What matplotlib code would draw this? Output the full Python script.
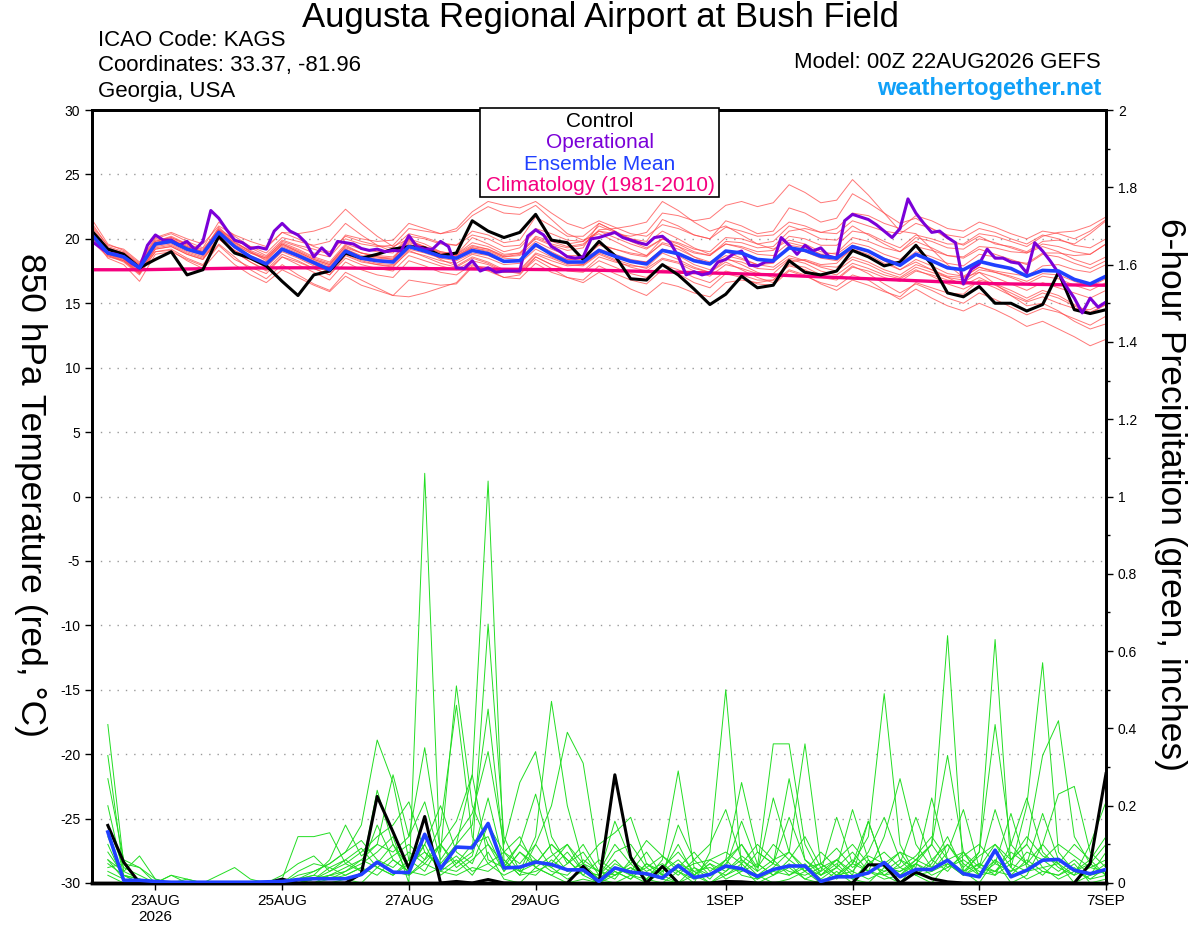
import matplotlib
matplotlib.use("Agg")
import matplotlib.pyplot as plt
from matplotlib.patches import Rectangle
from matplotlib.ticker import FuncFormatter, MultipleLocator
import numpy as np

plt.rcParams['font.family'] = ['Liberation Sans', 'DejaVu Sans']
plt.rcParams['axes.unicode_minus'] = False

# time axis: hours after 00Z 22AUG2026
hours = np.arange(65) * 6          # 6-hourly GEFS
hours_op = np.arange(129) * 3      # 3-hourly operational run
hours_pcp = np.arange(1, 65) * 6   # 6-hour precip totals

tick_hours = [24, 72, 120, 168, 240, 288, 336, 384]
tick_labels = ["23AUG\n2026", "25AUG", "27AUG", "29AUG", "1SEP", "3SEP", "5SEP", "7SEP"]

# ---- 850 hPa temperature (C) ----
control_t = [20.6, 19.2, 18.8, 17.75, 18.4, 19.0, 17.2, 17.6, 20.2, 18.9,
             18.5, 17.9, 16.7, 15.6, 17.2, 17.5, 18.9, 18.5, 18.8, 19.2,
             19.4, 19.3, 18.7, 18.9, 21.4, 20.6, 20.1, 20.5, 21.9, 19.9,
             19.7, 18.4, 19.8, 18.7, 16.9, 16.8, 18.0, 17.2, 16.1, 14.9,
             15.7, 17.1, 16.2, 16.4, 18.3, 17.4, 17.2, 17.5, 19.1, 18.6,
             17.9, 18.2, 19.5, 18.0, 15.8, 15.5, 16.3, 15.0, 15.0, 14.4,
             14.9, 17.4, 14.5, 14.2, 14.5]

operational_t = [19.8, 19.35, 18.9, 18.8, 18.6, 18.1, 17.75, 19.5, 20.3, 19.9,
                 19.9, 19.5, 19.8, 19.15, 19.8, 22.2, 21.6, 20.7, 19.9, 19.7,
                 19.25, 19.35, 19.2, 20.6, 21.2, 20.6, 20.3, 19.7, 18.6, 19.3,
                 18.7, 19.8, 19.7, 19.6, 19.25, 19.1, 19.2, 19.0, 19.1, 19.05,
                 20.25, 19.4, 19.2, 19.2, 19.8, 19.4, 17.75, 17.7, 18.3, 17.5,
                 17.75, 17.4, 17.5, 17.5, 17.5, 20.2, 20.7, 20.3, 19.4, 19.05,
                 18.6, 18.5, 18.6, 20.0, 20.1, 20.3, 20.5, 20.1, 19.9, 19.7,
                 19.55, 20.1, 20.2, 19.7, 18.65, 17.2, 17.45, 17.2, 17.35, 18.2,
                 18.4, 18.85, 19.05, 17.95, 17.9, 18.2, 18.25, 20.1, 19.5, 18.8,
                 19.5, 19.05, 19.3, 18.65, 18.5, 21.4, 21.9, 21.7, 21.5, 21.1,
                 20.6, 20.1, 20.8, 23.1, 22.0, 21.2, 20.5, 20.6, 20.1, 19.7,
                 16.5, 17.65, 18.05, 19.2, 18.5, 18.5, 18.2, 18.1, 17.35, 19.7,
                 19.05, 18.25, 17.35, 16.3, 15.4, 14.25, 15.4, 14.7, 15.1]

mean_t = [20.3, 18.9, 18.6, 17.75, 19.6, 19.8, 19.2, 18.85, 20.5, 19.4,
          18.6, 18.05, 19.2, 18.7, 18.15, 17.6, 19.05, 18.5, 18.3, 18.2,
          19.4, 19.05, 18.65, 18.5, 19.1, 18.85, 18.25, 18.3, 19.55, 18.8,
          18.2, 18.2, 19.1, 18.65, 18.25, 18.05, 19.1, 18.85, 18.3, 18.05,
          19.05, 18.9, 18.4, 18.3, 19.3, 19.1, 18.65, 18.5, 19.4, 19.05,
          18.4, 17.95, 18.8, 18.3, 17.75, 17.6, 18.25, 17.95, 17.7, 17.1,
          17.55, 17.5, 16.85, 16.5, 17.1]

climo_t = [17.6, 17.6, 17.6, 17.6, 17.62, 17.64, 17.66, 17.68, 17.7, 17.72,
           17.73, 17.74, 17.75, 17.75, 17.75, 17.74, 17.73, 17.72, 17.71, 17.7,
           17.7, 17.69, 17.68, 17.67, 17.66, 17.65, 17.64, 17.63, 17.62, 17.61,
           17.6, 17.58, 17.56, 17.53, 17.5, 17.47, 17.44, 17.41, 17.38, 17.35,
           17.32, 17.28, 17.24, 17.2, 17.15, 17.1, 17.05, 17.0, 16.95, 16.9,
           16.85, 16.8, 16.75, 16.7, 16.65, 16.6, 16.55, 16.52, 16.5, 16.48,
           16.46, 16.44, 16.42, 16.41, 16.4]

members_t = [
    [21.2, 19.4, 19.0, 18.0, 19.9, 20.1, 19.5, 19.0, 20.9, 19.8, 19.0, 18.3, 19.6, 19.0, 18.4, 18.0, 19.5, 18.9, 18.6, 18.4,
     20.0, 19.6, 19.0, 18.8, 20.1, 19.6, 19.0, 19.3, 20.6, 20.0, 19.6, 19.8, 21.0, 20.5, 20.0, 19.8, 21.5, 21.0, 20.3, 20.0,
     21.4, 21.0, 20.4, 20.6, 22.4, 22.0, 21.3, 21.6, 23.5, 22.8, 22.0, 21.2, 21.6, 20.8, 20.0, 19.5, 20.2, 19.6, 19.4, 19.0,
     19.8, 19.9, 19.6, 20.4, 21.4],
    [20.6, 19.0, 18.4, 17.4, 19.2, 19.4, 18.8, 18.4, 20.0, 19.0, 18.2, 17.5, 18.6, 18.0, 17.4, 16.8, 18.2, 17.6, 17.2, 17.0,
     18.3, 17.9, 17.4, 17.2, 18.0, 17.6, 17.0, 16.9, 18.1, 17.4, 17.0, 16.8, 17.9, 17.3, 16.8, 16.5, 17.6, 17.3, 16.6, 16.2,
     17.3, 17.0, 16.5, 16.4, 17.5, 17.1, 16.6, 16.3, 17.2, 16.8, 16.0, 15.3, 16.1, 15.4, 14.8, 14.4, 15.0, 14.5, 13.9, 13.2,
     13.6, 13.0, 12.4, 11.7, 12.2],
    [20.0, 19.2, 18.9, 17.9, 19.8, 20.1, 19.6, 19.1, 20.8, 19.9, 19.3, 18.7, 19.9, 19.5, 19.2, 18.8, 20.3, 20.0, 19.8, 19.9,
     21.2, 20.8, 20.4, 20.6, 21.8, 22.5, 22.0, 21.9, 22.6, 21.5, 20.4, 19.9, 20.4, 19.8, 19.2, 18.7, 19.6, 19.2, 18.6, 18.2,
     19.0, 18.5, 18.0, 17.8, 18.7, 18.3, 17.8, 17.5, 18.4, 18.0, 17.4, 17.0, 17.8, 17.4, 17.0, 16.8, 17.6, 17.4, 17.1, 16.7,
     17.3, 17.2, 16.7, 16.3, 16.9],
    [20.8, 18.7, 18.2, 17.2, 19.0, 19.2, 18.5, 18.0, 19.6, 18.6, 17.6, 16.9, 18.0, 17.2, 16.5, 16.0, 17.4, 16.8, 16.2, 15.6,
     16.8, 16.6, 16.4, 16.5, 17.8, 17.5, 17.0, 17.2, 18.6, 18.0, 17.6, 17.5, 18.6, 18.2, 17.9, 17.8, 18.9, 18.4, 17.8, 17.4,
     18.2, 17.6, 17.0, 16.6, 17.6, 17.2, 16.5, 16.0, 16.8, 16.4, 15.9, 15.5, 16.6, 16.2, 15.8, 15.7, 16.8, 16.5, 16.0, 15.4,
     16.0, 15.6, 14.9, 14.3, 14.9],
    [21.5, 19.6, 19.1, 18.1, 20.0, 20.4, 19.8, 19.3, 21.3, 20.2, 19.4, 18.9, 20.1, 19.8, 19.5, 19.8, 21.2, 20.3, 19.5, 19.0,
     19.9, 19.4, 18.9, 18.7, 19.3, 19.0, 18.5, 18.4, 19.6, 19.0, 18.4, 18.5, 19.5, 19.2, 18.9, 18.7, 20.0, 19.7, 19.2, 19.0,
     20.1, 20.0, 19.6, 19.8, 21.0, 20.6, 20.0, 19.9, 21.0, 20.3, 19.6, 19.0, 19.8, 19.3, 18.7, 18.5, 19.2, 18.8, 18.4, 18.0,
     18.8, 18.6, 18.1, 17.7, 18.3],
    [19.9, 18.8, 18.5, 17.6, 19.5, 19.7, 19.1, 18.7, 20.3, 19.3, 18.6, 18.1, 19.4, 18.9, 18.3, 17.9, 19.2, 18.6, 18.4, 18.3,
     19.6, 19.2, 18.8, 18.7, 19.4, 19.2, 18.7, 18.9, 20.2, 19.8, 19.4, 19.6, 20.6, 20.4, 20.2, 20.5, 22.0, 21.8, 21.4, 21.6,
     22.6, 22.9, 22.5, 22.8, 24.2, 23.6, 22.8, 23.0, 24.6, 23.4, 22.0, 20.6, 20.4, 19.2, 18.0, 17.0, 17.4, 16.5, 15.6, 14.8,
     15.0, 14.4, 13.6, 13.0, 13.4],
    [20.2, 18.5, 18.0, 16.7, 18.8, 19.0, 18.4, 17.9, 19.5, 18.4, 17.8, 17.3, 18.6, 18.2, 17.7, 17.2, 18.7, 18.2, 18.0, 17.9,
     19.0, 18.7, 18.3, 18.1, 18.8, 18.5, 18.0, 18.1, 19.2, 18.6, 18.1, 18.0, 18.9, 18.4, 18.0, 17.7, 18.5, 18.2, 17.7, 17.4,
     18.4, 18.2, 17.7, 17.6, 18.5, 18.3, 17.9, 17.8, 18.6, 18.2, 17.6, 17.2, 18.0, 17.6, 17.1, 17.0, 17.8, 17.5, 17.3, 17.1,
     17.9, 18.0, 17.6, 17.4, 18.0],
    [20.5, 19.1, 18.8, 17.9, 19.7, 20.0, 19.4, 19.0, 20.6, 19.7, 19.1, 18.6, 19.7, 19.2, 18.6, 18.2, 19.6, 19.2, 19.0, 18.9,
     20.2, 20.0, 19.6, 19.5, 20.6, 20.3, 19.7, 19.9, 21.7, 21.0, 20.2, 20.2, 21.2, 20.6, 20.0, 19.6, 20.6, 20.0, 19.3, 18.8,
     19.6, 19.4, 19.0, 19.1, 20.2, 20.0, 19.5, 19.5, 20.6, 20.4, 19.8, 19.3, 20.3, 20.0, 19.6, 19.6, 20.4, 20.2, 19.8, 19.4,
     20.2, 20.5, 20.6, 21.0, 21.7],
    [20.4, 18.8, 18.4, 17.5, 19.4, 19.6, 19.0, 18.6, 20.1, 19.1, 18.4, 17.8, 19.0, 18.5, 17.9, 17.4, 18.8, 18.3, 18.0, 17.8,
     19.1, 18.6, 18.1, 17.8, 18.5, 18.1, 17.5, 17.3, 18.4, 17.7, 17.0, 16.6, 17.4, 16.8, 16.1, 15.6, 16.6, 16.3, 15.8, 15.5,
     16.6, 16.8, 16.6, 16.8, 18.2, 18.4, 18.0, 18.1, 19.3, 19.0, 18.3, 17.6, 18.2, 17.6, 17.0, 16.4, 17.0, 16.4, 15.8, 15.2,
     15.8, 15.4, 14.8, 14.2, 14.9],
    [20.1, 18.9, 18.6, 17.7, 19.6, 19.9, 19.3, 18.9, 20.4, 19.4, 18.7, 18.2, 19.3, 18.8, 18.2, 17.8, 19.2, 18.7, 18.5, 18.4,
     19.5, 19.2, 18.8, 18.6, 19.3, 19.1, 18.6, 18.8, 20.1, 19.6, 19.3, 19.5, 20.7, 20.8, 21.0, 21.3, 22.9, 22.2, 21.3, 20.6,
     21.0, 20.3, 19.6, 19.2, 19.9, 19.6, 19.0, 18.8, 19.7, 19.4, 18.8, 18.4, 19.4, 19.1, 18.7, 18.6, 19.4, 19.3, 19.0, 18.9,
     19.6, 19.4, 19.0, 18.8, 19.6],
    [20.7, 19.2, 18.9, 18.0, 19.8, 20.2, 19.6, 19.2, 20.7, 19.6, 18.9, 18.4, 19.5, 19.0, 18.4, 18.0, 19.3, 18.9, 18.6, 18.5,
     19.7, 19.4, 19.0, 18.8, 19.5, 19.2, 18.6, 18.7, 19.8, 19.2, 18.7, 18.7, 19.6, 19.2, 18.8, 18.6, 19.7, 19.4, 18.9, 18.7,
     19.8, 19.7, 19.3, 19.4, 20.6, 20.8, 20.5, 20.8, 22.0, 21.8, 21.2, 20.8, 21.8, 21.4, 20.8, 20.6, 21.3, 20.9, 20.4, 20.0,
     20.6, 20.4, 20.0, 20.6, 21.5],
    [20.3, 18.7, 18.3, 17.4, 19.3, 19.5, 18.9, 18.5, 20.0, 19.0, 18.2, 17.6, 18.8, 18.3, 17.7, 17.2, 18.5, 18.0, 17.7, 17.5,
     18.7, 18.3, 17.9, 17.6, 18.3, 18.0, 17.4, 17.4, 18.6, 18.0, 17.5, 17.4, 18.3, 17.8, 17.3, 17.0, 18.0, 17.6, 17.0, 16.6,
     17.5, 17.2, 16.8, 16.8, 18.0, 17.8, 17.2, 16.9, 17.9, 17.3, 16.5, 15.8, 16.5, 16.0, 15.4, 15.0, 15.8, 15.3, 14.7, 14.1,
     14.6, 14.3, 13.8, 13.3, 14.0],
    [20.9, 19.3, 18.9, 17.8, 19.7, 20.0, 19.3, 18.9, 20.7, 19.7, 19.0, 18.5, 19.6, 19.1, 18.5, 18.1, 19.4, 18.9, 18.7, 18.6,
     19.8, 19.4, 18.9, 18.8, 19.7, 19.4, 18.8, 18.9, 20.0, 19.5, 19.1, 19.3, 21.2, 20.6, 19.8, 19.3, 20.0, 19.4, 18.6, 18.0,
     18.7, 18.4, 18.0, 18.1, 19.5, 19.3, 18.8, 18.9, 20.1, 19.8, 19.3, 19.0, 20.1, 19.8, 19.3, 19.2, 20.0, 19.7, 19.3, 18.9,
     19.4, 19.0, 18.4, 18.0, 18.6],
    [19.8, 18.6, 18.3, 17.3, 19.2, 19.4, 18.8, 18.4, 20.0, 19.1, 18.5, 17.9, 19.1, 18.6, 18.0, 17.5, 18.9, 18.4, 18.1, 18.0,
     19.2, 18.9, 18.5, 18.3, 18.9, 18.7, 18.2, 18.3, 19.4, 18.9, 18.4, 18.4, 19.2, 18.8, 18.4, 18.2, 19.2, 18.9, 18.4, 18.1,
     19.0, 18.8, 18.4, 18.3, 19.3, 19.0, 18.5, 18.3, 19.2, 18.8, 18.1, 17.6, 18.4, 17.9, 17.3, 17.1, 17.8, 17.4, 17.0, 16.5,
     17.1, 16.9, 16.4, 16.0, 16.6],
    [20.4, 19.0, 18.7, 17.6, 19.5, 19.9, 19.4, 19.0, 20.7, 19.9, 19.4, 19.3, 20.5, 20.4, 20.6, 21.0, 22.3, 21.2, 20.2, 19.4,
     20.0, 19.2, 18.4, 17.9, 18.6, 18.2, 17.6, 17.5, 18.8, 18.3, 17.9, 18.0, 19.0, 18.6, 18.3, 18.2, 19.2, 18.7, 18.0, 17.6,
     18.5, 18.0, 17.4, 17.0, 17.9, 17.6, 17.0, 16.8, 17.8, 17.5, 17.0, 16.7, 17.5, 17.2, 16.8, 16.6, 17.4, 17.0, 16.5, 16.0,
     16.6, 16.2, 15.8, 15.4, 16.0],
    [20.6, 19.1, 18.7, 17.8, 19.6, 19.9, 19.3, 18.8, 20.3, 19.5, 18.9, 18.5, 19.8, 19.4, 18.9, 18.6, 20.0, 19.6, 19.4, 19.5,
     20.8, 20.6, 20.4, 20.8, 22.1, 22.9, 22.6, 22.4, 22.9, 22.0, 21.2, 20.8, 21.4, 20.9, 20.4, 20.2, 21.1, 20.8, 20.3, 20.0,
     20.9, 20.6, 20.2, 20.3, 21.3, 21.0, 20.5, 20.4, 21.4, 21.0, 20.6, 20.4, 21.2, 20.8, 20.3, 20.1, 20.8, 20.5, 20.0, 19.6,
     20.3, 20.0, 19.5, 19.3, 20.0],
    [20.2, 18.8, 18.3, 17.3, 19.0, 19.1, 18.3, 17.7, 19.1, 18.0, 17.2, 16.6, 17.6, 17.0, 16.4, 15.9, 17.1, 16.4, 16.0, 15.6,
     15.5, 15.8, 16.2, 16.6, 17.9, 17.8, 17.4, 17.6, 18.9, 18.5, 18.0, 17.9, 18.8, 18.3, 17.8, 17.5, 18.4, 18.1, 17.5, 17.1,
     18.0, 17.7, 17.3, 17.3, 18.4, 18.1, 17.5, 17.2, 18.1, 17.7, 17.2, 16.9, 17.6, 17.1, 16.5, 16.1, 16.7, 16.2, 15.6, 15.1,
     15.5, 15.0, 14.6, 14.5, 15.1],
    [21.0, 19.5, 19.2, 18.2, 20.1, 20.5, 20.0, 19.6, 21.0, 20.3, 19.8, 19.4, 20.5, 20.0, 19.4, 19.0, 20.2, 19.8, 19.5, 19.3,
     20.4, 20.1, 19.7, 19.5, 20.3, 20.0, 19.4, 19.5, 20.8, 20.4, 19.9, 19.8, 20.6, 20.1, 19.6, 19.2, 20.0, 19.6, 19.0, 18.7,
     19.6, 19.3, 18.8, 18.7, 19.7, 19.4, 18.8, 18.5, 19.5, 19.1, 18.5, 18.1, 19.0, 18.6, 18.1, 17.9, 18.8, 18.6, 18.3, 18.1,
     18.9, 18.9, 18.7, 18.8, 19.6],
]

# ---- 6-hour precipitation (inches), valid at hours_pcp ----
control_p = [0.149, 0.054, 0.0, 0.0, 0.0, 0.0, 0.0, 0.0, 0.0, 0.0,
             0.0, 0.01, 0.0, 0.0, 0.0, 0.0, 0.024, 0.224, 0.132, 0.037,
             0.172, 0.0, 0.004, 0.0, 0.009, 0.0, 0.0, 0.0, 0.0, 0.0,
             0.043, 0.0, 0.28, 0.067, 0.0, 0.043, 0.0, 0.0, 0.0, 0.004,
             0.003, 0.0, 0.0, 0.0, 0.0, 0.0, 0.0, 0.0, 0.047, 0.047,
             0.0, 0.028, 0.011, 0.003, 0.0, 0.0, 0.0, 0.0, 0.0, 0.0,
             0.0, 0.0, 0.05, 0.283]

mean_p = [0.132, 0.007, 0.007, 0.004, 0.002, 0.002, 0.002, 0.002, 0.002, 0.002,
          0.003, 0.004, 0.009, 0.011, 0.011, 0.011, 0.022, 0.054, 0.028, 0.027,
          0.126, 0.037, 0.093, 0.091, 0.154, 0.039, 0.041, 0.054, 0.048, 0.034,
          0.034, 0.004, 0.039, 0.028, 0.024, 0.013, 0.045, 0.014, 0.022, 0.044,
          0.037, 0.017, 0.035, 0.044, 0.044, 0.004, 0.016, 0.016, 0.026, 0.053,
          0.016, 0.035, 0.035, 0.059, 0.024, 0.016, 0.085, 0.016, 0.033, 0.059,
          0.061, 0.033, 0.024, 0.035]

members_p = [
    [0.41, 0.05, 0, 0, 0, 0, 0, 0, 0, 0,
     0, 0, 0.01, 0.02, 0.01, 0.03, 0.05, 0.08, 0.12, 0,
     1.06, 0.03, 0.06, 0.02, 0.08, 0.01, 0, 0.04, 0.02, 0,
     0.01, 0, 0.02, 0.05, 0.01, 0, 0.03, 0, 0.08, 0.5,
     0.04, 0, 0.02, 0.05, 0.01, 0, 0.03, 0, 0.06, 0.02,
     0, 0.05, 0.1, 0.64, 0.03, 0, 0.06, 0, 0.02, 0.1,
     0.05, 0, 0.02, 0.03],
    [0.33, 0.03, 0.07, 0.01, 0, 0, 0, 0, 0, 0,
     0, 0, 0, 0.01, 0.02, 0.01, 0, 0.04, 0.02, 0.06,
     0.12, 0.05, 0.1, 0.28, 1.04, 0.06, 0.02, 0.1, 0.04, 0.01,
     0.03, 0.01, 0, 0.02, 0.04, 0.01, 0, 0.02, 0, 0.03,
     0.06, 0.02, 0, 0.01, 0.03, 0, 0.02, 0.05, 0.12, 0.49,
     0.1, 0.02, 0, 0.05, 0.02, 0.08, 0.63, 0.04, 0.01, 0.03,
     0.02, 0.05, 0, 0.01],
    [0.27, 0.06, 0.04, 0, 0, 0, 0, 0, 0, 0,
     0, 0, 0.02, 0.03, 0.05, 0.08, 0.15, 0.37, 0.26, 0.06,
     0.03, 0.1, 0.05, 0.08, 0.67, 0.12, 0.03, 0.05, 0.1, 0.06,
     0.02, 0, 0.03, 0.01, 0.05, 0.02, 0, 0.04, 0.01, 0.06,
     0.1, 0.04, 0.36, 0.36, 0.1, 0.02, 0.05, 0.01, 0, 0.04,
     0.08, 0.02, 0.05, 0.12, 0.03, 0.07, 0.1, 0.04, 0.2, 0.57,
     0.08, 0.03, 0.02, 0.05],
    [0.2, 0.02, 0.01, 0, 0, 0, 0, 0, 0, 0,
     0, 0, 0.01, 0.02, 0.06, 0.15, 0.07, 0.1, 0.28, 0.12,
     0.35, 0.08, 0.51, 0.2, 0.1, 0.03, 0.08, 0.04, 0.02, 0.05,
     0.1, 0.03, 0.01, 0.06, 0.02, 0.04, 0.08, 0.03, 0, 0.02,
     0.05, 0.01, 0.04, 0.08, 0.36, 0.05, 0.02, 0.06, 0.03, 0.01,
     0.02, 0.06, 0.1, 0.33, 0.08, 0.02, 0.03, 0.06, 0.1, 0.04,
     0.01, 0.03, 0.06, 0.02],
    [0.15, 0.04, 0.02, 0, 0.02, 0.01, 0, 0, 0, 0,
     0, 0.01, 0.12, 0.12, 0.13, 0.05, 0.03, 0.24, 0.1, 0.02,
     0.06, 0.15, 0.46, 0.12, 0.05, 0.08, 0.03, 0.12, 0.47, 0.2,
     0.05, 0.01, 0.04, 0.02, 0, 0.03, 0.06, 0.02, 0.05, 0.01,
     0.03, 0.08, 0.05, 0.27, 0.06, 0.02, 0.04, 0.01, 0.05, 0.08,
     0.04, 0.02, 0.06, 0.1, 0.04, 0.08, 0.41, 0.1, 0.05, 0.02,
     0.06, 0.03, 0.01, 0.04],
    [0.1, 0.01, 0, 0, 0, 0.01, 0, 0.02, 0.04, 0.01,
     0, 0, 0, 0.01, 0.03, 0.05, 0.08, 0.12, 0.15, 0.21,
     0.08, 0.04, 0.1, 0.15, 0.45, 0.08, 0.05, 0.1, 0.2, 0.39,
     0.31, 0.05, 0.02, 0.04, 0.01, 0.06, 0.29, 0.04, 0.02, 0.05,
     0.1, 0.03, 0.06, 0.02, 0.05, 0.01, 0.04, 0.08, 0.03, 0.12,
     0.27, 0.1, 0.04, 0.06, 0.02, 0.05, 0.03, 0.08, 0.05, 0.1,
     0.23, 0.25, 0.08, 0.04],
    [0.08, 0.02, 0, 0, 0, 0, 0, 0, 0, 0,
     0, 0, 0, 0, 0.02, 0.04, 0.06, 0.1, 0.08, 0.12,
     0.21, 0.06, 0.12, 0.18, 0.34, 0.1, 0.26, 0.34, 0.12, 0.05,
     0.08, 0.02, 0.16, 0.06, 0.03, 0.05, 0.02, 0.06, 0.1, 0.19,
     0.06, 0.03, 0.22, 0.08, 0.04, 0.02, 0.06, 0.03, 0.08, 0.17,
     0.06, 0.04, 0.22, 0.06, 0.03, 0.05, 0.02, 0.1, 0.22, 0.08,
     0.04, 0.02, 0.1, 0.21],
    [0.06, 0.03, 0.01, 0, 0, 0, 0, 0, 0, 0,
     0, 0, 0.01, 0.03, 0.05, 0.08, 0.11, 0.06, 0.04, 0.08,
     0.05, 0.1, 0.16, 0.28, 0.06, 0.04, 0.1, 0.23, 0.08, 0.03,
     0.05, 0.1, 0.13, 0.17, 0.05, 0.02, 0.04, 0.08, 0.03, 0.06,
     0.26, 0.08, 0.05, 0.17, 0.06, 0.03, 0.17, 0.05, 0.16, 0.04,
     0.02, 0.05, 0.03, 0.08, 0.19, 0.04, 0.19, 0.06, 0.1, 0.33,
     0.42, 0.12, 0.05, 0.02],
    [0.04, 0.05, 0.04, 0.01, 0, 0, 0, 0, 0, 0,
     0, 0.02, 0.05, 0.07, 0.03, 0.06, 0.03, 0.05, 0.1, 0.04,
     0.1, 0.02, 0.05, 0.1, 0.12, 0.03, 0.08, 0.05, 0.1, 0.06,
     0.02, 0.06, 0.03, 0.01, 0.05, 0.03, 0.1, 0.02, 0.06, 0.04,
     0.16, 0.05, 0.02, 0.06, 0.03, 0.08, 0.04, 0.19, 0.06, 0.02,
     0.05, 0.17, 0.06, 0.03, 0.08, 0.02, 0.05, 0.18, 0.04, 0.06,
     0.03, 0.06, 0.02, 0.08],
    [0.03, 0.01, 0, 0, 0, 0, 0, 0, 0, 0,
     0, 0, 0, 0.01, 0.02, 0.03, 0.06, 0.04, 0.02, 0.05,
     0.08, 0.04, 0.03, 0.06, 0.1, 0.05, 0.03, 0.02, 0.06, 0.03,
     0.04, 0.01, 0.05, 0.03, 0.08, 0.02, 0.15, 0.06, 0.02, 0.04,
     0.03, 0.05, 0.02, 0.04, 0.01, 0.03, 0.06, 0.02, 0.16, 0.04,
     0.03, 0.06, 0.04, 0.1, 0.05, 0.02, 0.06, 0.03, 0.05, 0.18,
     0.06, 0.03, 0.05, 0.1],
    [0.02, 0, 0, 0, 0, 0, 0, 0, 0, 0,
     0, 0, 0, 0, 0, 0.01, 0.02, 0.05, 0.03, 0.02,
     0.05, 0.03, 0.02, 0.04, 0.03, 0.06, 0.02, 0.03, 0.05, 0.1,
     0.03, 0.02, 0.06, 0.02, 0.01, 0.04, 0.03, 0.01, 0.02, 0.06,
     0.02, 0.01, 0.03, 0.02, 0.04, 0.05, 0.02, 0.03, 0.01, 0.03,
     0.06, 0.02, 0.03, 0.05, 0.02, 0.04, 0.03, 0.02, 0.06, 0.03,
     0.02, 0.04, 0.01, 0.02],
    [0.12, 0.02, 0, 0, 0.02, 0, 0, 0, 0, 0,
     0, 0, 0.03, 0.05, 0.04, 0.02, 0.04, 0.02, 0.06, 0.03,
     0.02, 0.04, 0.07, 0.03, 0.05, 0.02, 0.04, 0.06, 0.03, 0.02,
     0.06, 0.03, 0.02, 0.04, 0.02, 0.01, 0.05, 0.03, 0.04, 0.02,
     0.04, 0.02, 0.05, 0.03, 0.02, 0.04, 0.01, 0.05, 0.03, 0.02,
     0.03, 0.05, 0.02, 0.04, 0.06, 0.03, 0.02, 0.05, 0.03, 0.04,
     0.05, 0.02, 0.04, 0.03],
    [0.06, 0.01, 0, 0, 0, 0, 0, 0, 0, 0,
     0, 0, 0, 0.01, 0.04, 0.06, 0.09, 0.04, 0.07, 0.1,
     0.06, 0.1, 0.04, 0.07, 0.22, 0.05, 0.1, 0.06, 0.04, 0.08,
     0.03, 0.02, 0.08, 0.1, 0.04, 0.07, 0.03, 0.05, 0.06, 0.08,
     0.05, 0.1, 0.06, 0.08, 0.03, 0.05, 0.09, 0.04, 0.07, 0.05,
     0.08, 0.06, 0.1, 0.04, 0.07, 0.1, 0.05, 0.03, 0.08, 0.06,
     0.1, 0.07, 0.04, 0.06],
    [0.05, 0.02, 0.01, 0, 0, 0, 0, 0, 0, 0,
     0, 0, 0, 0, 0.01, 0.02, 0.04, 0.15, 0.06, 0.03,
     0.1, 0.2, 0.08, 0.05, 0.15, 0.08, 0.12, 0.04, 0.07, 0.1,
     0.05, 0.03, 0.1, 0.05, 0.11, 0.07, 0.04, 0.02, 0.05, 0.03,
     0.07, 0.04, 0.1, 0.06, 0.12, 0.04, 0.06, 0.1, 0.05, 0.03,
     0.04, 0.07, 0.12, 0.06, 0.08, 0.04, 0.1, 0.06, 0.12, 0.07,
     0.05, 0.1, 0.06, 0.12],
]

legend_items = [("Control", "black"), ("Operational", "#7B00D8"),
                ("Ensemble Mean", "#2040FF"), ("Climatology (1981-2010)", "#F5007F")]

W, H = 1200, 927
fig = plt.figure(figsize=(W / 100, H / 100), dpi=100)
ax = fig.add_axes([92 / W, 1 - 883 / H, (1106 - 92) / W, (883 - 110) / H])
ax2 = ax.twinx()

# temperature ensemble
for m in members_t:
    ax.plot(hours, m, color="#FF4A4A", lw=0.7, alpha=0.75, zorder=2)
ax.plot(hours, climo_t, color="#F5007F", lw=2.4, zorder=4)
ax.plot(hours, control_t, color="black", lw=2.2, zorder=5)
ax.plot(hours_op, operational_t, color="#7B00D8", lw=2.2, zorder=6)
ax.plot(hours, mean_t, color="#2040FF", lw=2.6, zorder=7)

# precipitation ensemble
for m in members_p:
    ax2.plot(hours_pcp, m, color="#22DD22", lw=0.7, zorder=2)
ax2.plot(hours_pcp, control_p, color="black", lw=2.2, zorder=5)
ax2.plot(hours_pcp, mean_p, color="#2040FF", lw=2.6, zorder=6)

ax.set_xlim(0, 384)
ax.set_ylim(-30, 30)
ax2.set_ylim(0, 2)
ax.set_xticks(tick_hours)
ax.set_xticklabels(tick_labels, fontsize=11)
ax.yaxis.set_major_locator(MultipleLocator(5))
ax2.yaxis.set_major_locator(MultipleLocator(0.2))
ax2.yaxis.set_minor_locator(MultipleLocator(0.1))
ax2.yaxis.set_major_formatter(FuncFormatter(lambda v, p: f"{v:g}"))
ax.tick_params(axis="y", labelsize=10, direction="out", length=5, width=1)
ax.tick_params(axis="x", direction="out", length=5, width=1, pad=3)
ax2.tick_params(axis="y", which="major", labelsize=10, direction="out", length=5, width=1)
ax2.tick_params(axis="y", which="minor", direction="out", length=3, width=1)
ax.yaxis.grid(True, linestyle=(0, (1, 5)), color="#999999", lw=1)

for a in (ax, ax2):
    for side in a.spines:
        a.spines[side].set_linewidth(2)
    a.spines["bottom"].set_linewidth(2.5)

# legend box
ax2.add_patch(Rectangle(((480 - 92) / 1014, (883 - 197) / 773), 239 / 1014, 89 / 773,
                        transform=ax.transAxes, facecolor="white", edgecolor="black",
                        lw=1.2, zorder=20, clip_on=False))
for k, (name, col) in enumerate(legend_items):
    ax2.text(0.501, (883 - 121 - 21.5 * k) / 773, name, transform=ax.transAxes,
             ha="center", va="center", fontsize=15, color=col, zorder=21)

fig.text(0.5, 1 - 18 / H, "Augusta Regional Airport at Bush Field", ha="center", va="center", fontsize=25)
fig.text(98 / W, 1 - 40 / H, "ICAO Code: KAGS", ha="left", va="center", fontsize=16)
fig.text(98 / W, 1 - 66 / H, "Coordinates: 33.37, -81.96", ha="left", va="center", fontsize=16)
fig.text(98 / W, 1 - 92 / H, "Georgia, USA", ha="left", va="center", fontsize=16)
fig.text(1101 / W, 1 - 63 / H, "Model: 00Z 22AUG2026 GEFS", ha="right", va="center", fontsize=16)
fig.text(1101 / W, 1 - 89 / H, "weathertogether.net", ha="right", va="center", fontsize=17,
         fontweight="bold", color="#10A0F8")
fig.text(30 / W, 1 - 495 / H, "850 hPa Temperature (red, °C)", rotation=-90,
         ha="center", va="center", fontsize=25.5)
fig.text(1170 / W, 1 - 495 / H, "6-hour Precipitation (green, inches)", rotation=-90,
         ha="center", va="center", fontsize=25.5)

fig.savefig("out.png", dpi=100)
